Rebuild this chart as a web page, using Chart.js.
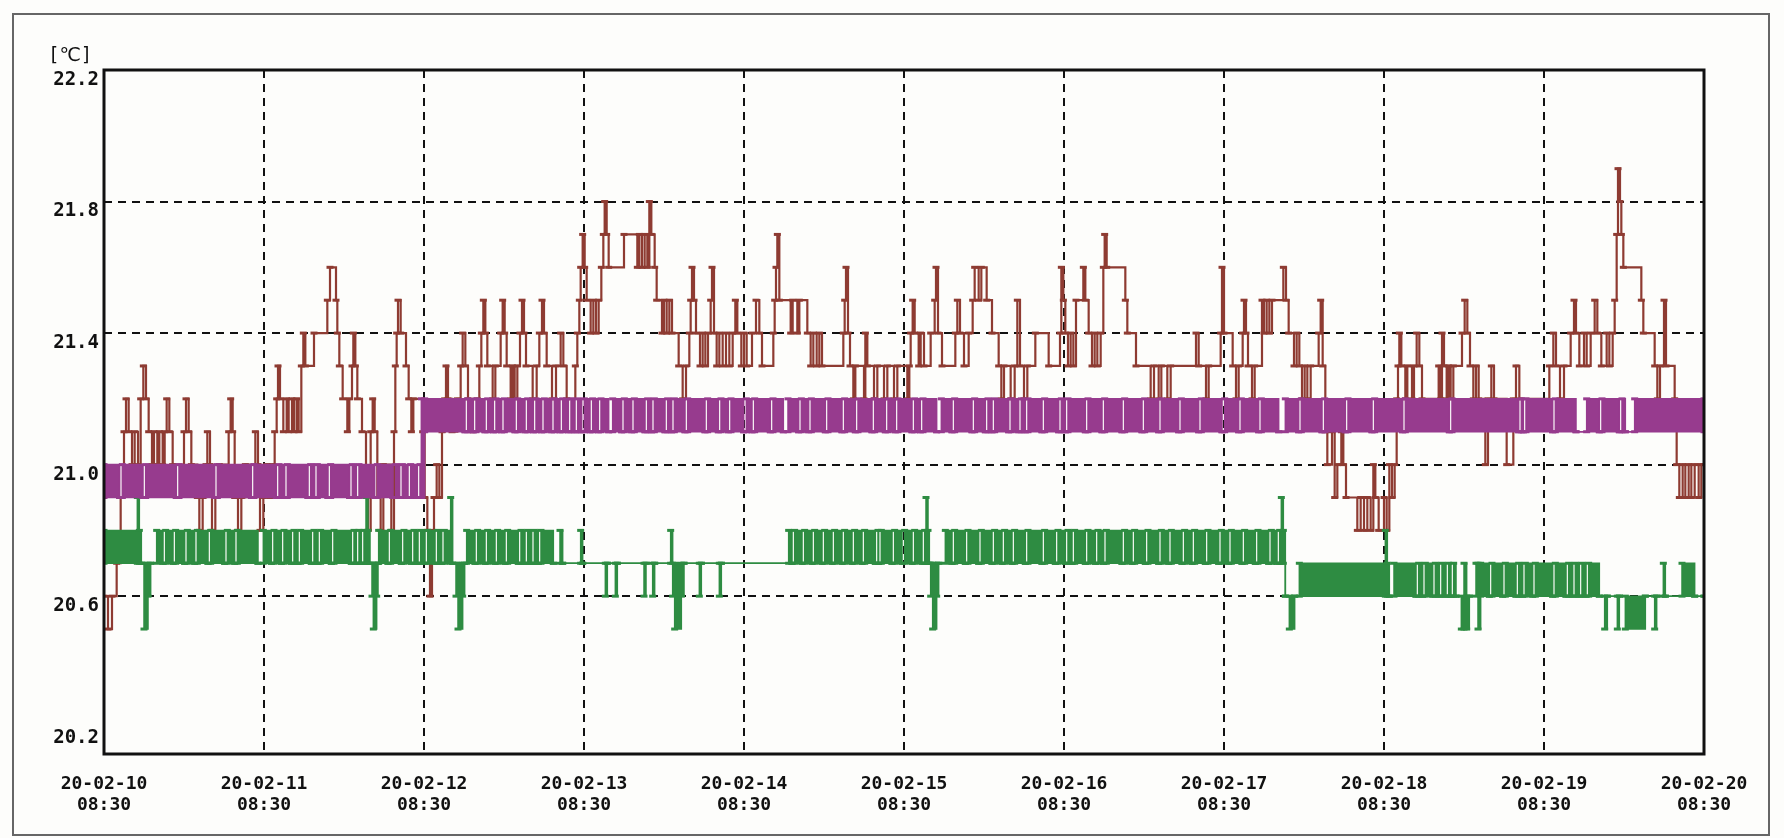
<!DOCTYPE html>
<html>
<head>
<meta charset="utf-8">
<script src="https://cdn.jsdelivr.net/npm/chart.js@4.4.1/dist/chart.umd.min.js"></script>
<style>
  html, body { margin: 0; padding: 0; background: #fdfdfb; }
  #wrap { width: 1784px; height: 838px; position: relative; }
</style>
</head>
<body>
<div id="wrap"><canvas id="myChart"></canvas></div>
<script>
// x values are hours since 20-02-10 08:30
var dayLabels = ['20-02-10', '20-02-11', '20-02-12', '20-02-13', '20-02-14', '20-02-15',
                 '20-02-16', '20-02-17', '20-02-18', '20-02-19', '20-02-20'];
var timeLabel = '08:30';
var yTicks = [20.2, 20.6, 21.0, 21.4, 21.8, 22.2];
var unitLabel = '[℃]';

// brown sensor: [hour, value], value holds until the next entry
var brown = [
  [0,20.6],[0.6,20.5],[1.2,20.6],[1.9,20.7],[2.5,20.9],[3.0,21.1],[3.3,21.2],[3.7,21.1],[4.2,21.0],[4.6,21.1],
  [5.1,21.0],[5.5,21.2],[5.9,21.3],[6.3,21.2],[6.7,21.1],[7.2,21.0],[7.5,21.1],[8.0,21.0],[8.3,21.1],[8.8,21.0],
  [9.1,21.1],[9.4,21.2],[9.8,21.1],[10.3,21.0],[12.0,21.1],[12.3,21.2],[12.7,21.1],[13.1,21.0],[14.0,20.9],[14.3,20.8],
  [14.8,20.9],[15.3,21.0],[15.5,21.1],[15.9,21.0],[16.2,20.8],[16.7,20.9],[17.3,21.0],[18.7,21.1],[19.0,21.2],[19.3,21.1],
  [19.6,20.9],[20.1,20.8],[20.6,20.9],[21.2,21.0],[22.7,21.1],[23.1,21.0],[23.4,20.8],[23.9,20.9],[24.4,21.0],[24.9,20.9],
  [25.3,21.0],[25.6,21.1],[25.9,21.2],[26.1,21.3],[26.4,21.2],[26.9,21.1],[27.4,21.2],[27.7,21.1],[28.2,21.2],[28.5,21.1],
  [28.9,21.2],[29.2,21.1],[29.6,21.3],[29.9,21.4],[30.2,21.3],[31.5,21.4],[33.5,21.5],[33.9,21.6],[34.8,21.5],[35.0,21.4],
  [35.3,21.3],[35.8,21.2],[36.5,21.1],[36.8,21.2],[37.2,21.3],[37.4,21.4],[37.7,21.3],[38.0,21.2],[38.7,21.1],[39.3,20.9],
  [39.6,20.8],[40.0,21.1],[40.3,21.2],[40.6,21.1],[41.0,20.9],[41.5,20.8],[41.9,21.0],[43.1,20.8],[43.5,21.1],[43.7,21.3],
  [43.9,21.4],[44.1,21.5],[44.5,21.4],[45.3,21.3],[45.7,21.2],[46.1,21.1],[46.4,21.2],[47.8,21.1],
  [48.1,20.9],[48.5,20.8],[48.9,20.6],[49.2,20.8],[49.5,20.9],[49.9,21.0],[50.3,20.9],[50.7,21.1],[51.1,21.2],[51.3,21.3],
  [51.6,21.2],[52.2,21.1],[53.0,21.2],[53.5,21.3],[53.8,21.4],[54.2,21.3],[54.6,21.2],[55.2,21.1],[56.0,21.2],[56.3,21.3],
  [56.6,21.4],[56.9,21.5],[57.2,21.4],[57.5,21.3],[58.3,21.2],[58.7,21.3],[59.5,21.4],[59.8,21.5],[60.1,21.4],[60.4,21.3],
  [61.0,21.2],[61.3,21.3],[61.6,21.2],[62.0,21.3],[62.4,21.4],[62.7,21.5],[63.0,21.4],[63.3,21.3],[64.3,21.2],[64.9,21.3],
  [65.3,21.4],[65.7,21.5],[66.0,21.4],[66.4,21.3],[67.2,21.2],[67.8,21.3],[68.5,21.4],[68.9,21.3],[69.4,21.2],[70.7,21.3],
  [71.0,21.4],[71.3,21.5],[71.5,21.6],[71.8,21.7],[72.1,21.6],[72.4,21.5],[73.0,21.4],[73.4,21.5],[73.8,21.4],[74.2,21.5],
  [74.6,21.6],[74.9,21.7],[75.1,21.8],[75.4,21.7],[75.7,21.6],[78.0,21.7],[80.0,21.6],[80.3,21.7],[80.7,21.6],[81.1,21.7],
  [81.5,21.6],[81.8,21.8],[82.1,21.7],[82.6,21.6],[82.9,21.5],[83.7,21.4],[84.0,21.5],[84.4,21.4],[84.8,21.5],[85.2,21.4],
  [86.2,21.3],[86.8,21.2],[87.3,21.3],[87.8,21.4],[88.0,21.5],[88.2,21.6],[88.5,21.5],[88.8,21.4],[89.4,21.3],[89.8,21.4],
  [90.2,21.3],[90.6,21.4],[91.0,21.5],[91.2,21.6],[91.5,21.4],[91.9,21.3],[92.3,21.4],[92.8,21.3],[93.3,21.4],[93.8,21.3],
  [94.3,21.4],[94.7,21.5],[95.0,21.4],
  [95.6,21.3],[96.0,21.4],[96.4,21.3],[97.2,21.4],[97.8,21.5],[98.3,21.4],[98.7,21.3],[100.4,21.4],[100.6,21.5],[100.8,21.6],
  [101.0,21.7],[101.3,21.5],[103.0,21.4],[103.3,21.5],[104.0,21.4],[104.3,21.5],[105.5,21.4],[106.0,21.3],[106.4,21.4],[106.9,21.3],
  [107.3,21.4],[107.7,21.3],[110.9,21.4],[111.1,21.5],[111.3,21.6],[111.6,21.4],[111.9,21.3],[112.4,21.2],[112.7,21.3],[114.0,21.2],
  [114.2,21.4],[114.5,21.3],[115.5,21.2],[116.0,21.3],[117.0,21.2],[117.5,21.3],[118.5,21.2],[119.0,21.3],[120.5,21.2],[120.8,21.3],
  [121.0,21.4],[121.3,21.5],[121.6,21.4],[122.2,21.3],[122.5,21.4],[123.0,21.3],[124.0,21.4],[124.6,21.5],[124.8,21.6],[125.1,21.4],
  [125.7,21.3],[127.7,21.4],[128.0,21.5],[128.4,21.4],[129.0,21.3],[129.7,21.4],[130.3,21.5],[130.6,21.6],[131.2,21.5],[131.6,21.6],
  [132.4,21.5],[133.2,21.4],[134.2,21.3],[134.6,21.2],[135.0,21.3],[136.0,21.2],[136.6,21.3],[137.0,21.5],[137.4,21.3],[138.0,21.2],
  [138.5,21.3],[139.7,21.4],[141.7,21.3],[143.4,21.4],[143.6,21.6],[143.9,21.5],
  [144.2,21.4],[144.6,21.3],[145.0,21.4],[145.4,21.3],[145.8,21.5],[146.9,21.6],[147.2,21.5],[147.7,21.4],[148.2,21.3],[148.6,21.4],
  [149.0,21.3],[149.5,21.4],[149.9,21.6],[150.1,21.7],[150.4,21.6],[153.2,21.5],[153.5,21.4],[154.8,21.3],[157.0,21.2],[157.5,21.3],
  [158.2,21.2],[158.6,21.3],[159.5,21.2],[160.0,21.3],[163.8,21.4],[164.2,21.3],[165.3,21.2],[165.7,21.3],[167.5,21.4],[167.7,21.6],
  [168.0,21.4],[169.3,21.3],[169.8,21.2],[170.2,21.3],[170.8,21.4],[171.0,21.5],[171.3,21.4],[171.6,21.3],[172.2,21.2],[172.6,21.3],
  [173.7,21.5],[174.0,21.4],[174.4,21.5],[174.8,21.4],[175.2,21.5],[176.9,21.6],[177.3,21.5],[177.7,21.4],[178.5,21.3],[178.9,21.4],
  [179.3,21.3],[179.7,21.2],[180.1,21.3],[180.5,21.2],[181.0,21.3],[182.2,21.4],[182.5,21.5],[182.8,21.3],[183.2,21.1],[183.5,21.0],
  [184.2,21.1],[184.6,20.9],[185.0,21.0],[185.6,21.1],[185.9,21.0],[186.3,20.9],[188.0,20.8],[188.5,20.9],[189.0,20.8],[189.5,20.9],
  [190.0,20.8],[190.4,21.0],[190.7,20.9],[191.2,20.8],
  [192.0,20.9],[192.4,20.8],[192.8,21.0],[193.2,20.9],[193.6,21.0],[193.9,21.2],[194.1,21.3],[194.3,21.4],[194.6,21.3],[195.2,21.2],
  [195.5,21.3],[196.2,21.2],[196.5,21.3],[196.9,21.4],[197.3,21.3],[197.7,21.2],[200.2,21.3],[200.5,21.2],[200.7,21.4],[201.0,21.3],
  [201.4,21.2],[201.7,21.3],[202.0,21.2],[202.4,21.3],[203.7,21.4],[204.1,21.5],[204.5,21.4],[204.9,21.3],[205.4,21.2],[205.8,21.3],
  [206.2,21.2],[207.2,21.0],[207.6,21.2],[208.1,21.3],[208.5,21.2],[210.4,21.0],[211.4,21.2],[211.8,21.3],[212.3,21.2],[216.8,21.3],
  [217.4,21.4],[217.8,21.3],[218.4,21.2],[219.0,21.3],[220.0,21.4],[220.5,21.5],[220.8,21.4],[221.3,21.3],[222.0,21.4],[222.4,21.3],
  [223.0,21.4],[223.6,21.5],[224.0,21.4],[224.6,21.3],[225.4,21.4],[225.8,21.3],[226.3,21.4],[226.6,21.5],[226.9,21.7],[227.1,21.9],
  [227.4,21.8],[227.6,21.7],[227.9,21.6],[230.6,21.5],[230.9,21.4],[232.6,21.3],[233.0,21.2],[233.4,21.3],[234.0,21.5],[234.3,21.3],
  [235.6,21.2],[235.9,21.0],[236.3,20.9],[236.8,21.0],[237.2,20.9],[237.7,21.0],[238.1,20.9],[238.6,21.0],[239.2,20.9],[239.6,21.0],
  [240,21.0]
];

// purple and green flicker between two levels: [hour, low, high]
var purpleSteps = [[0, 20.9, 21.0], [47.6, 20.9, 21.2], [48.1, 21.1, 21.2]];
// moments where the purple reading rested on its low level
var purpleSlits = [
  2.35, 5.85, 10.85, 16.6, 22.1, 25.85, 27.1, 30.6, 31.6, 33.6, 36.85, 37.85, 40.6, 43.35, 44.35, 45.6, 47.0,
  54.15, 55.4, 57.15, 58.4, 59.65, 61.65, 63.15, 64.4, 65.65, 67.15, 68.4, 69.65, 70.65, 71.65, 72.9, 74.15,
  77.65, 79.15, 81.15, 82.15, 84.15, 85.15, 87.15, 90.15, 92.15, 93.65, 95.95, 97.2, 99.95, 104.2, 105.7,
  108.2, 110.7, 112.7, 115.2, 117.2, 118.7, 121.2, 122.45, 127.2, 130.2, 132.2, 133.2, 135.7, 137.2, 138.2,
  140.7, 143.2, 144.2, 147.2, 149.7, 152.7, 155.7, 158.2, 161.2, 164.2, 167.7, 170.2, 173.2, 179.2, 182.7,
  186.2, 190.2, 194.8, 201.8, 212.2, 212.9, 217.3, 224.3, 227.3
];
var purpleGaps = [[75.7, 76.3], [101.9, 102.6], [124.9, 125.6], [176.2, 177.2], [220.8, 222.4], [228.2, 229.6]];

var greenSteps = [
  [0,20.7,20.8],[5.0,20.7,20.9],[5.3,20.7,20.8],[5.6,20.7,20.7],[6.0,20.5,20.7],[6.6,20.6,20.7],[7.0,20.7,20.7],
  [7.9,20.7,20.8],[23.1,20.7,20.7],[23.9,20.7,20.8],[39.3,20.7,20.9],[39.6,20.7,20.8],[39.9,20.7,20.7],
  [40.2,20.6,20.7],[40.4,20.5,20.7],[40.9,20.6,20.7],[41.1,20.7,20.7],[41.2,20.7,20.8],[52.0,20.7,20.9],
  [52.3,20.7,20.7],[52.8,20.6,20.7],[53.1,20.5,20.7],[53.8,20.6,20.7],[54.1,20.7,20.7],[54.4,20.7,20.8],
  [67.4,20.7,20.7],[68.4,20.7,20.8],[68.8,20.7,20.7],[71.5,20.7,20.8],[71.8,20.7,20.7],[75.2,20.6,20.7],
  [75.5,20.7,20.7],[76.7,20.6,20.7],[77.0,20.7,20.7],[81.0,20.6,20.7],[81.3,20.7,20.7],[82.3,20.6,20.7],
  [82.6,20.7,20.7],[85.0,20.7,20.8],[85.3,20.6,20.7],[85.6,20.5,20.7],[86.6,20.6,20.7],[87.0,20.7,20.7],
  [89.3,20.6,20.7],[89.6,20.7,20.7],[92.3,20.6,20.7],[92.6,20.7,20.7],[102.7,20.7,20.8],[123.3,20.7,20.9],
  [123.6,20.7,20.8],[123.8,20.7,20.7],[124.0,20.6,20.7],[124.3,20.5,20.7],[124.9,20.6,20.7],[125.2,20.7,20.7],
  [126.2,20.7,20.8],[176.6,20.7,20.9],[176.9,20.7,20.8],[177.2,20.6,20.6],[177.8,20.5,20.6],[178.6,20.6,20.6],
  [179.3,20.6,20.7],[192.2,20.6,20.8],[192.5,20.6,20.7],[192.8,20.6,20.6],[193.5,20.6,20.7],[202.8,20.6,20.6],
  [203.6,20.5,20.6],[204.0,20.5,20.7],[204.4,20.5,20.6],[204.8,20.6,20.6],[205.8,20.6,20.7],[206.1,20.5,20.7],
  [206.5,20.6,20.7],[224.3,20.6,20.6],[225.1,20.5,20.6],[225.5,20.6,20.6],[227.0,20.5,20.6],[227.3,20.6,20.6],
  [228.2,20.5,20.6],[231.2,20.6,20.6],[232.6,20.5,20.6],[232.9,20.6,20.6],[233.9,20.6,20.7],[234.2,20.6,20.6],
  [236.7,20.6,20.7],[238.6,20.6,20.6]
];
var greenSlits = [
  8.85, 10.35, 12.1, 13.6, 15.6, 18.1, 19.6, 25.1, 26.6, 28.1, 29.1, 31.1, 32.1, 34.1, 37.1, 37.85, 38.6,
  42.6, 44.6, 46.1, 47.1, 48.15, 49.65, 50.65, 55.65, 57.15, 58.65, 60.15, 62.15, 63.15, 64.15, 65.15,
  103.2, 104.7, 106.2, 107.7, 109.2, 110.7, 112.2, 113.7, 115.7, 116.2, 118.2, 119.7, 121.2, 122.7,
  127.2, 129.2, 131.2, 133.2, 134.7, 136.2, 138.2, 140.7, 142.7, 144.2, 145.2, 147.2, 148.7, 149.95,
  152.7, 154.2, 156.2, 158.2, 159.7, 161.7, 163.2, 165.2, 167.2, 168.7, 170.7, 172.7, 174.7, 175.95,
  196.8, 197.8, 199.3, 200.3, 201.3, 202.05, 207.8, 209.8, 211.8, 212.8, 214.3, 217.3, 219.3, 220.3,
  221.3, 222.3
];
var greenGaps = [];
var slitHours = 0.4;
var endHour = 240;

function stepAt(steps, t) {
  var s = steps[0];
  for (var i = 0; i < steps.length; i++) {
    if (steps[i][0] <= t) s = steps[i];
  }
  return s;
}

// turn the level steps into two stepped lines (high / low) with the slits cut out
function buildBand(steps, slits, gaps) {
  var holes = gaps.concat(slits.map(function(s) { return [s, s + slitHours]; }));
  var cuts = steps.map(function(s) { return s[0]; });
  holes.forEach(function(h) { cuts.push(h[0], h[1]); });
  cuts.push(endHour);
  cuts.sort(function(a, b) { return a - b; });
  var hi = [], lo = [];
  cuts.forEach(function(t, i) {
    if (i > 0 && t === cuts[i - 1]) return;
    var s = stepAt(steps, t);
    var open = holes.some(function(h) { return t >= h[0] && t < h[1]; });
    lo.push({x: t, y: s[1]});
    hi.push({x: t, y: open ? s[1] : s[2]});
  });
  return {hi: hi, lo: lo};
}

var purple = buildBand(purpleSteps, purpleSlits, purpleGaps);
var green = buildBand(greenSteps, greenSlits, greenGaps);

var brownColor = '#8e3b32';
var purpleColor = '#973b8e';
var greenColor = '#2e8c42';

function lineSet(data, color, width, order, fill) {
  return {
    data: data,
    stepped: true,
    borderColor: color,
    backgroundColor: color,
    borderWidth: width,
    pointStyle: 'line',
    pointRadius: 3.5,
    pointBorderWidth: 3,
    pointBorderColor: color,
    fill: fill,
    order: order
  };
}

// frame, page border and unit label
var framePlugin = {
  id: 'frame',
  beforeDraw: function(chart) {
    var ctx = chart.ctx;
    ctx.save();
    ctx.fillStyle = '#fdfdfb';
    ctx.fillRect(0, 0, chart.width, chart.height);
    ctx.strokeStyle = '#666';
    ctx.lineWidth = 2;
    ctx.strokeRect(13, 14, 1756, 821);
    ctx.restore();
  },
  afterDraw: function(chart) {
    var a = chart.chartArea;
    var ctx = chart.ctx;
    ctx.save();
    ctx.strokeStyle = '#111';
    ctx.lineWidth = 3;
    ctx.strokeRect(a.left, a.top, a.right - a.left, a.bottom - a.top);
    ctx.fillStyle = '#111';
    ctx.font = '19px "DejaVu Sans Mono", "DejaVu Sans"';
    ctx.textAlign = 'left';
    ctx.textBaseline = 'middle';
    ctx.fillText(unitLabel, a.left - 56, a.top - 14);
    ctx.restore();
  }
};

var ctx = document.getElementById('myChart').getContext('2d');
var myChart = new Chart(ctx, {
  type: 'line',
  data: {
    datasets: [
      lineSet(brown.map(function(p) { return {x: p[0], y: p[1]}; }), brownColor, 2.2, 3, false),
      lineSet(green.hi, greenColor, 1.5, 2, '+1'),
      lineSet(green.lo, greenColor, 1.5, 2, false),
      lineSet(purple.hi, purpleColor, 1.5, 1, '+1'),
      lineSet(purple.lo, purpleColor, 1.5, 1, false)
    ]
  },
  options: {
    responsive: true,
    maintainAspectRatio: false,
    animation: false,
    layout: { padding: { top: 70, right: 80, bottom: 0, left: 0 } },
    plugins: {
      legend: { display: false },
      tooltip: { enabled: false }
    },
    scales: {
      x: {
        type: 'linear',
        min: 0,
        max: endHour,
        afterBuildTicks: function(scale) {
          scale.ticks = dayLabels.map(function(d, i) { return {value: i * 24}; });
        },
        afterFit: function(scale) { scale.height = 84; },
        ticks: {
          color: '#111',
          padding: 20,
          maxRotation: 0,
          autoSkip: false,
          font: { family: '"DejaVu Sans Mono"', size: 18, weight: 'bold', lineHeight: 1.15 },
          callback: function(value, index) { return [dayLabels[index], timeLabel]; }
        },
        grid: {
          color: function(c) {
            return (c.index === 0 || c.index === dayLabels.length - 1) ? 'rgba(0,0,0,0)' : '#111';
          },
          lineWidth: 2,
          drawTicks: false,
          tickLength: 0
        },
        border: { display: false, dash: [8, 6] }
      },
      y: {
        min: 20.12,
        max: 22.2,
        afterBuildTicks: function(scale) {
          scale.ticks = yTicks.map(function(v) { return {value: v}; });
        },
        afterFit: function(scale) { scale.width = 104; },
        ticks: {
          color: '#111',
          padding: 5,
          labelOffset: 10,
          font: { family: '"DejaVu Sans Mono"', size: 19, weight: 'bold' },
          callback: function(value) { return value.toFixed(1); }
        },
        grid: {
          color: function(c) {
            return (c.index === 0 || c.index === yTicks.length - 1) ? 'rgba(0,0,0,0)' : '#111';
          },
          lineWidth: 2,
          drawTicks: false,
          tickLength: 0
        },
        border: { display: false, dash: [8, 6] }
      }
    }
  },
  plugins: [framePlugin]
});
</script>
</body>
</html>
